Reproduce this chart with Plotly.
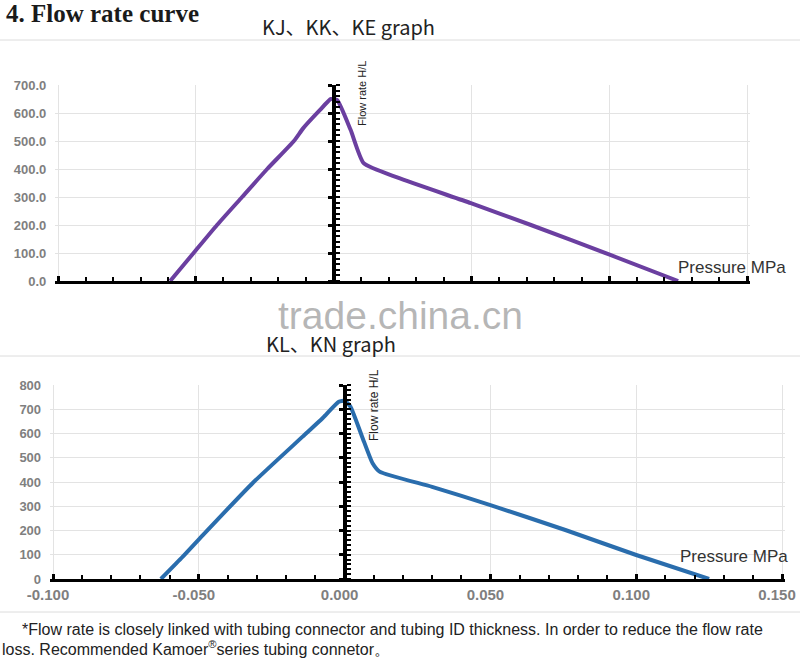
import plotly.graph_objects as go

# ---------------- data ----------------
pressure_top = [-0.0593, -0.0508, -0.0423, -0.0332, -0.0241, -0.0144, -0.011, -0.005, -0.001,
                0.0013, 0.0062, 0.0109, 0.0233, 0.0498, 0.0716, 0.1004, 0.125]
flow_top = [0, 100, 200, 300, 400, 500, 546, 610, 650, 646, 539, 421, 369, 278, 200, 93, 0]

pressure_bot = [-0.063, -0.0555, -0.0486, -0.0315, -0.0144, -0.0075, -0.002, 0.0, 0.002,
                0.006, 0.0096, 0.012, 0.030, 0.050, 0.0757, 0.100, 0.125]
flow_bot = [0, 92, 181, 396, 587, 664, 731, 735, 711, 587, 477, 443, 380, 305, 202, 99, 0]

x_tickvals = [-0.100, -0.050, 0.000, 0.050, 0.100, 0.150]
x_ticktext = ["-0.100", "-0.050", "0.000", "0.050", "0.100", "0.150"]
top_yticks = [0, 100, 200, 300, 400, 500, 600, 700]
top_yticktext = ["0.0", "100.0", "200.0", "300.0", "400.0", "500.0", "600.0", "700.0"]
bot_yticks = [0, 100, 200, 300, 400, 500, 600, 700, 800]

W, H = 800, 659


def px(x):
    return x / W


def py(y):
    return 1 - y / H


# nominal axis span -0.1..0.15, padded slightly so the end gridlines are kept
X0, X1 = -0.1, 0.15
PAD = 0.001
XR = [X0 - PAD, X1 + PAD]


def xdom(left_px, right_px):
    per = (right_px - left_px) / (X1 - X0)
    return [px(left_px - PAD * per), px(right_px + PAD * per)]


top_dom_x = xdom(58, 747)
top_dom_y = [py(281), py(85)]
bot_dom_x = xdom(53, 782)
bot_dom_y = [py(579), py(385)]


def zero_pos(dom):
    return dom[0] + (0 - XR[0]) / (XR[1] - XR[0]) * (dom[1] - dom[0])


fig = go.Figure()
fig.add_trace(go.Scatter(x=pressure_top, y=flow_top, mode="lines",
                         line=dict(color="#6B3FA0", width=4, shape="spline", smoothing=0.5),
                         xaxis="x", yaxis="y", showlegend=False, hoverinfo="skip"))
fig.add_trace(go.Scatter(x=pressure_bot, y=flow_bot, mode="lines",
                         line=dict(color="#2A6DAD", width=4, shape="spline", smoothing=0.5),
                         xaxis="x2", yaxis="y2", showlegend=False, hoverinfo="skip"))
# invisible copies so the zero-position vertical axes get drawn
fig.add_trace(go.Scatter(x=pressure_top, y=flow_top, mode="lines", opacity=0,
                         line=dict(width=0), xaxis="x", yaxis="y3", showlegend=False,
                         hoverinfo="skip"))
fig.add_trace(go.Scatter(x=pressure_bot, y=flow_bot, mode="lines", opacity=0,
                         line=dict(width=0), xaxis="x2", yaxis="y4", showlegend=False,
                         hoverinfo="skip"))

grid = "#e3e3e3"
lblfont = dict(family="Liberation Sans, Arial", size=13, color="#7f7f7f", weight="bold")


def xaxis_common(dom, anchor, show_labels):
    return dict(domain=dom, anchor=anchor, range=XR, showgrid=True, gridcolor=grid, gridwidth=1,
                zeroline=False, showline=True, linecolor="black", linewidth=3, automargin=False,
                tickmode="array", tickvals=x_tickvals, ticktext=x_ticktext,
                showticklabels=show_labels, ticks="inside", ticklen=5, tickwidth=3, tickcolor="black",
                ticklabeloverflow="allow", ticklabelshift=-5,
                minor=dict(ticks="inside", tickmode="linear", tick0=0, dtick=0.01, ticklen=4,
                           tickwidth=2, tickcolor="black", showgrid=False),
                tickfont=dict(family="Liberation Sans, Arial", size=15, color="#7f7f7f", weight="bold"),
                fixedrange=True)


def zero_yaxis(overlay, pos, rng):
    return dict(overlaying=overlay, anchor="free", position=pos, range=rng, side="left",
                automargin=False,
                showline=True, linecolor="black", linewidth=4, showgrid=False, zeroline=False,
                showticklabels=False, ticks="outside", ticklen=4, tickwidth=3, tickcolor="black",
                tickmode="linear", dtick=100,
                minor=dict(ticks="inside", tickmode="linear", dtick=20, ticklen=4, tickwidth=2,
                           tickcolor="black"))


fig.update_layout(
    width=W, height=H, autosize=False,
    margin=dict(l=0, r=0, t=0, b=0, pad=0, autoexpand=False),
    paper_bgcolor="white", plot_bgcolor="white",
    xaxis=xaxis_common(top_dom_x, "y", False),
    yaxis=dict(domain=top_dom_y, anchor="x", range=[0, 700], showgrid=True, gridcolor=grid,
               zeroline=False, showline=False, tickmode="array", tickvals=top_yticks,
               ticktext=top_yticktext, tickfont=lblfont, ticks="", ticklabelstandoff=8,
               automargin=False),
    yaxis3=zero_yaxis("y", zero_pos(top_dom_x), [0, 700]),
    xaxis2=xaxis_common(bot_dom_x, "y2", True),
    yaxis2=dict(domain=bot_dom_y, anchor="x2", range=[0, 800], showgrid=True, gridcolor=grid,
                zeroline=False, showline=False, tickmode="array", tickvals=bot_yticks,
                tickfont=lblfont, ticks="", ticklabelstandoff=8, automargin=False),
    yaxis4=zero_yaxis("y2", zero_pos(bot_dom_x), [0, 800]),
)

# separators
for yy in (40, 356, 612):
    fig.add_shape(type="line", xref="paper", yref="paper", x0=0, x1=1, y0=py(yy), y1=py(yy),
                  line=dict(color="#dcdcdc", width=1))


def ann(text, x, y, size, color="#222", family="Liberation Sans, Arial", xanchor="left",
        angle=0, weight="normal"):
    fig.add_annotation(text=text, x=px(x), y=py(y), xref="paper", yref="paper", showarrow=False,
                       xanchor=xanchor, yanchor="middle", textangle=angle,
                       font=dict(family=family, size=size, color=color, weight=weight))


ann("4. Flow rate curve", 4, 14, 25, color="#1a1a1a", family="Liberation Serif, serif", weight="bold")
ann("KJ、KK、KE graph", 260, 27, 20, family="Noto Sans CJK SC, Noto Sans")
ann("trade.china.cn", 400, 315, 39, color="rgba(110,110,110,0.5)", xanchor="center",
    family="Liberation Sans, Arial")
ann("KL、KN graph", 264, 343, 20, family="Noto Sans CJK SC, Noto Sans")
ann("Pressure MPa", 676, 267, 17, color="#333")
ann("Pressure MPa", 678, 556, 17, color="#333")
ann("Flow rate H/L", 362, 94, 11, angle=-90, xanchor="center", color="#222")
ann("Flow rate H/L", 374, 405, 12, angle=-90, xanchor="center", color="#222")
ann("*Flow rate is closely linked with tubing connector and tubing ID thickness. In order to reduce the flow rate",
    20, 629, 16, family="Liberation Sans Narrow, Arial Narrow, Liberation Sans", color="#222")
ann("loss. Recommended Kamoer<sup>®</sup>series tubing connetor。",
    0, 648, 16, family="Liberation Sans Narrow, Arial Narrow, Liberation Sans", color="#222")

fig.write_html("out.html", post_script="document.body.style.margin='0';",
               config={"displayModeBar": False, "staticPlot": True})
